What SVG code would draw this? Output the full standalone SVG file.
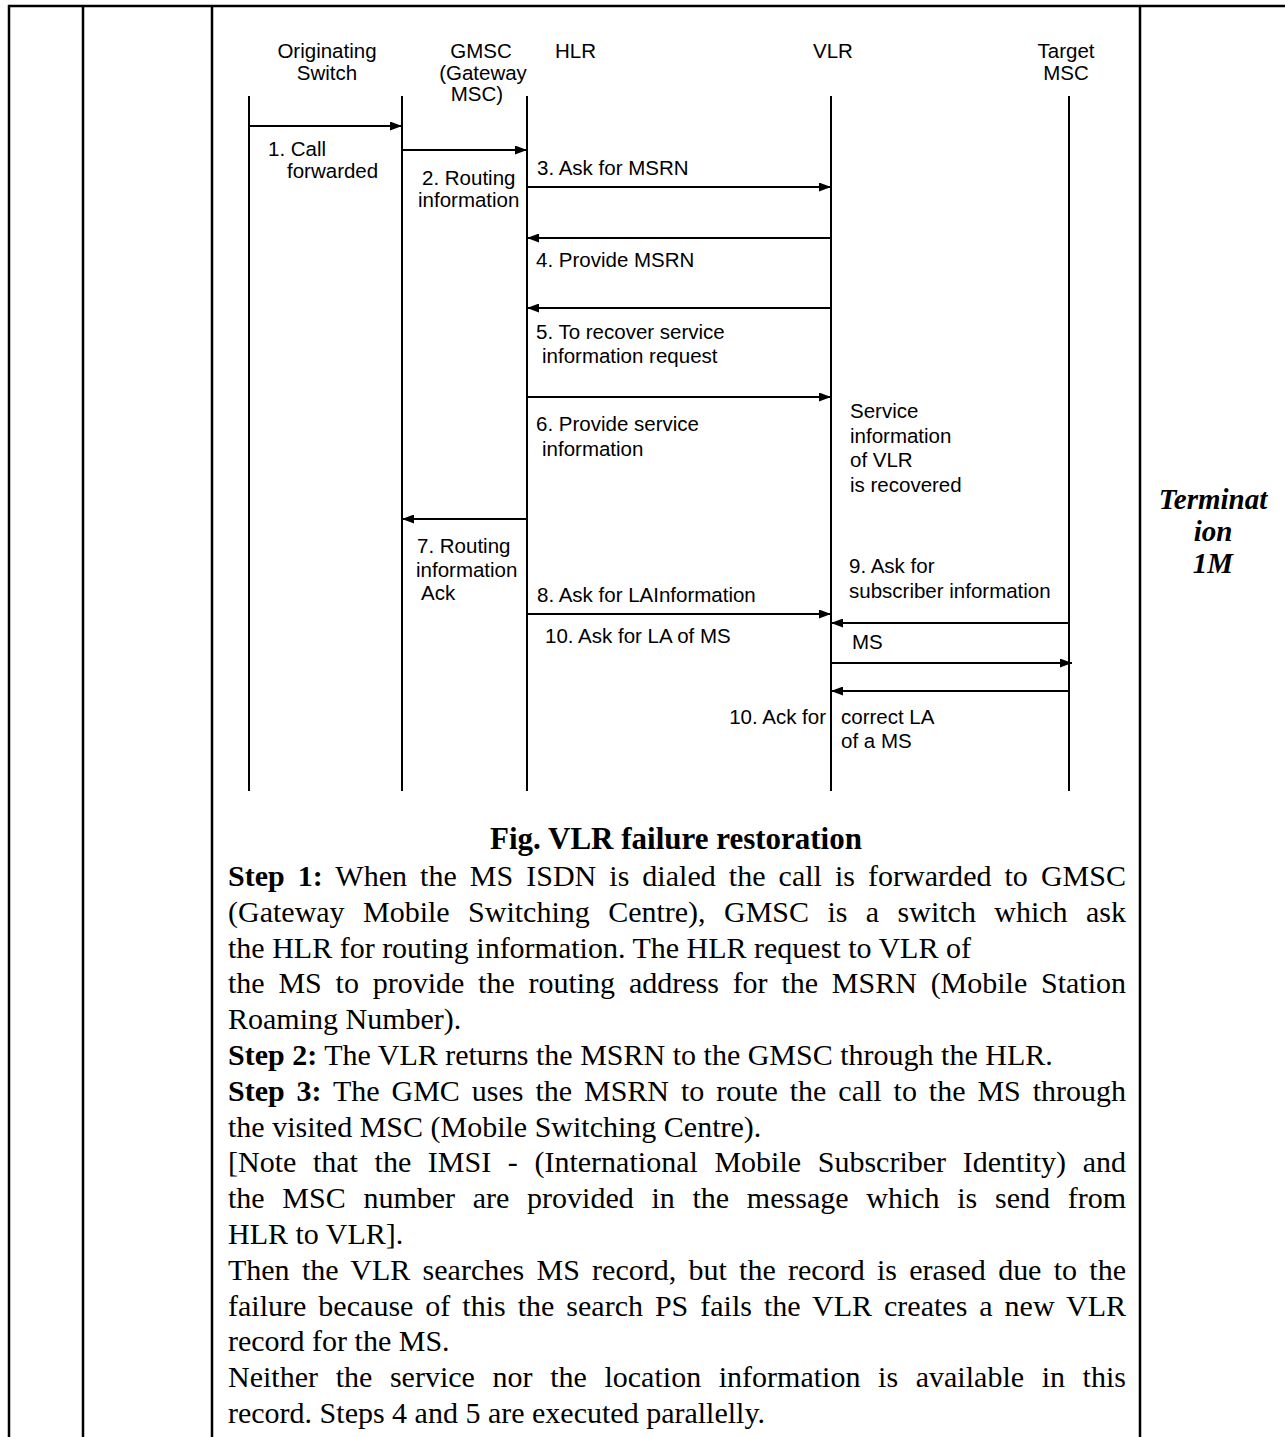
<svg xmlns="http://www.w3.org/2000/svg" width="1285" height="1437" viewBox="0 0 1285 1437">
  <style>
    .frame { stroke: #000; stroke-width: 2.5; fill: none; }
    .life { stroke: #000; stroke-width: 2; fill: none; }
    .msg { stroke: #000; stroke-width: 2; fill: none; marker-end: url(#ah); }
    .lbl { font-family: "Liberation Sans", Arial, sans-serif; font-size: 20.5px; fill: #000; }
    .hdr { font-family: "Liberation Sans", Arial, sans-serif; font-size: 20.5px; fill: #000; text-anchor: middle; }
    .body { font-family: "Liberation Serif", "Times New Roman", serif; font-size: 30px; fill: #000; }
    .title { font-family: "Liberation Serif", "Times New Roman", serif; font-size: 31px; font-weight: bold; text-anchor: middle; fill: #000; }
    .side { font-family: "Liberation Serif", "Times New Roman", serif; font-size: 29px; font-weight: bold; font-style: italic; text-anchor: middle; fill: #000; }
    .b { font-weight: bold; }
  </style>
  <defs>
    <marker id="ah" markerWidth="12" markerHeight="9" refX="12" refY="4.5" orient="auto" markerUnits="userSpaceOnUse">
      <path d="M0,0 L12,4.5 L0,9 z" fill="#000"/>
    </marker>
  </defs>

  <rect width="1285" height="1437" fill="#fff"/>

  <!-- table grid -->
  <g id="table">
    <line class="frame" x1="8" y1="6" x2="1285" y2="6"/>
    <line class="frame" x1="9" y1="5" x2="9" y2="1437"/>
    <line class="frame" x1="83" y1="5" x2="83" y2="1437"/>
    <line class="frame" x1="212" y1="5" x2="212" y2="1437"/>
    <line class="frame" x1="1140" y1="5" x2="1140" y2="1437"/>
  </g>

  <!-- lifelines -->
  <g id="originating-switch">
    <text class="hdr" x="327" y="58">Originating</text>
    <text class="hdr" x="327" y="80">Switch</text>
    <line class="life" x1="249" y1="96" x2="249" y2="791"/>
  </g>
  <g id="gmsc">
    <text class="hdr" x="481" y="58">GMSC</text>
    <text class="hdr" x="483" y="80">(Gateway</text>
    <text class="hdr" x="477" y="101">MSC)</text>
    <line class="life" x1="402" y1="96" x2="402" y2="791"/>
  </g>
  <g id="hlr">
    <text class="lbl" x="555" y="58">HLR</text>
    <line class="life" x1="527" y1="96" x2="527" y2="791"/>
  </g>
  <g id="vlr">
    <text class="lbl" x="813" y="58">VLR</text>
    <line class="life" x1="831" y1="96" x2="831" y2="791"/>
    <text class="lbl" x="850" y="418">Service</text>
    <text class="lbl" x="850" y="443">information</text>
    <text class="lbl" x="850" y="467">of VLR</text>
    <text class="lbl" x="850" y="492">is recovered</text>
  </g>
  <g id="target-msc">
    <text class="hdr" x="1066" y="58">Target</text>
    <text class="hdr" x="1066" y="80">MSC</text>
    <line class="life" x1="1069" y1="96" x2="1069" y2="791"/>
  </g>

  <!-- messages -->
  <g id="connectors">
    <line class="msg" x1="249" y1="126" x2="402" y2="126"/>
    <line class="msg" x1="402" y1="150" x2="527" y2="150"/>
    <line class="msg" x1="527" y1="187" x2="831" y2="187"/>
    <line class="msg" x1="831" y1="238" x2="527" y2="238"/>
    <line class="msg" x1="831" y1="308" x2="527" y2="308"/>
    <line class="msg" x1="527" y1="397" x2="831" y2="397"/>
    <line class="msg" x1="527" y1="519" x2="402" y2="519"/>
    <line class="msg" x1="527" y1="614" x2="831" y2="614"/>
    <line class="msg" x1="1069" y1="623" x2="831" y2="623"/>
    <line class="msg" x1="831" y1="663" x2="1072" y2="663"/>
    <line class="msg" x1="1069" y1="691" x2="831" y2="691"/>
  </g>

  <!-- message labels -->
  <g id="labels">
    <text class="lbl" x="268" y="156">1. Call</text>
    <text class="lbl" x="287" y="178">forwarded</text>
    <text class="lbl" x="422" y="185">2. Routing</text>
    <text class="lbl" x="418" y="207">information</text>
    <text class="lbl" x="537" y="175">3. Ask for MSRN</text>
    <text class="lbl" x="536" y="267">4. Provide MSRN</text>
    <text class="lbl" x="536" y="339">5. To recover service</text>
    <text class="lbl" x="542" y="363">information request</text>
    <text class="lbl" x="536" y="431">6. Provide service</text>
    <text class="lbl" x="542" y="456">information</text>
    <text class="lbl" x="417" y="553">7. Routing</text>
    <text class="lbl" x="416" y="577">information</text>
    <text class="lbl" x="421" y="600">Ack</text>
    <text class="lbl" x="537" y="602">8. Ask for LAInformation</text>
    <text class="lbl" x="849" y="573">9. Ask for</text>
    <text class="lbl" x="849" y="598">subscriber information</text>
    <text class="lbl" x="545" y="643">10. Ask for LA of MS</text>
    <text class="lbl" x="852" y="649">MS</text>
    <text class="lbl" x="826" y="724" text-anchor="end">10. Ack for</text>
    <text class="lbl" x="841" y="724">correct LA</text>
    <text class="lbl" x="841" y="748">of a MS</text>
  </g>

  <!-- right column -->
  <g id="category">
    <text class="side" x="1213" y="509">Terminat</text>
    <text class="side" x="1213" y="541">ion</text>
    <text class="side" x="1213" y="573">1M</text>
  </g>

  <!-- caption and explanation -->
  <g id="description">
    <text class="title" x="676" y="849">Fig. VLR failure restoration</text>
    <text class="body" x="228" y="886" word-spacing="5.5" textLength="898" lengthAdjust="spacing"><tspan class="b">Step 1:</tspan> When the MS ISDN is dialed the call is forwarded to GMSC</text>
    <text class="body" x="228" y="921.8" word-spacing="10.9" textLength="898" lengthAdjust="spacing">(Gateway Mobile Switching Centre), GMSC is a switch which ask</text>
    <text class="body" x="228" y="957.6">the HLR for routing information. The HLR request to VLR of</text>
    <text class="body" x="228" y="993.4" word-spacing="6.3" textLength="898" lengthAdjust="spacing">the MS to provide the routing address for the MSRN (Mobile Station</text>
    <text class="body" x="228" y="1029.2">Roaming Number).</text>
    <text class="body" x="228" y="1065"><tspan class="b">Step 2:</tspan> The VLR returns the MSRN to the GMSC through the HLR.</text>
    <text class="body" x="228" y="1100.8" word-spacing="4.4" textLength="898" lengthAdjust="spacing"><tspan class="b">Step 3:</tspan> The GMC uses the MSRN to route the call to the MS through</text>
    <text class="body" x="228" y="1136.6">the visited MSC (Mobile Switching Centre).</text>
    <text class="body" x="228" y="1172.4" word-spacing="9.1" textLength="898" lengthAdjust="spacing">[Note that the IMSI - (International Mobile Subscriber Identity) and</text>
    <text class="body" x="228" y="1208.2" word-spacing="10.2" textLength="898" lengthAdjust="spacing">the MSC number are provided in the message which is send from</text>
    <text class="body" x="228" y="1244">HLR to VLR].</text>
    <text class="body" x="228" y="1279.8" word-spacing="4.8" textLength="898" lengthAdjust="spacing">Then the VLR searches MS record, but the record is erased due to the</text>
    <text class="body" x="228" y="1315.6" word-spacing="4.4" textLength="898" lengthAdjust="spacing">failure because of this the search PS fails the VLR creates a new VLR</text>
    <text class="body" x="228" y="1351.4">record for the MS.</text>
    <text class="body" x="228" y="1387.2" word-spacing="10.1" textLength="898" lengthAdjust="spacing">Neither the service nor the location information is available in this</text>
    <text class="body" x="228" y="1423">record. Steps 4 and 5 are executed parallelly.</text>
  </g>
</svg>
